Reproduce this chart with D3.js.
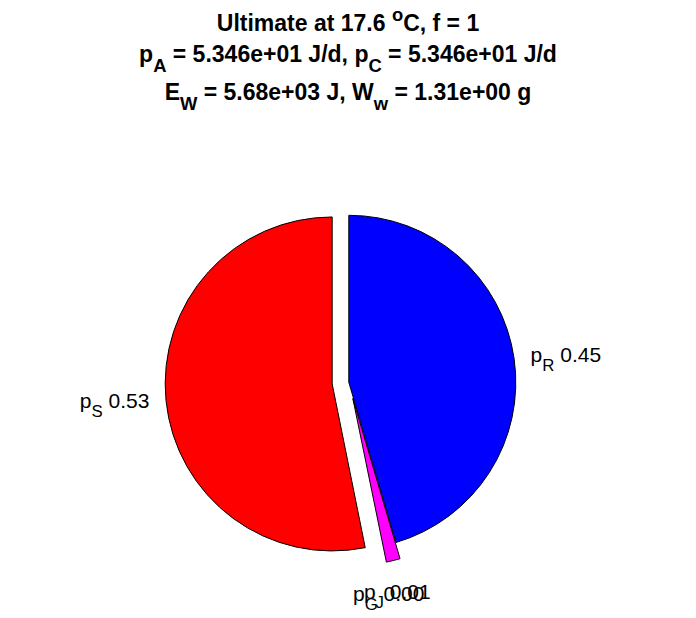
<!DOCTYPE html>
<html>
<head>
<meta charset="utf-8">
<script src="https://cdn.jsdelivr.net/npm/d3@7"></script>
<style>
  html, body { margin: 0; padding: 0; background: #ffffff; }
  svg { display: block; }
  text { font-family: "Liberation Sans", Arial, Helvetica, sans-serif; }
</style>
</head>
<body>
<svg id="chart" width="696" height="618"></svg>
<script>
// ---- data ----
const categories = ["p_{S}", "p_{G}", "p_{J}", "p_{R}"];
const fractions  = [0.5317, 0.0005, 0.0134, 0.4544];
const colors     = ["#ff0000", "#00ff00", "#ff00ff", "#0000ff"];
const explode    = [1, 1, 1, 0];
const titleLines = [
  "Ultimate at 17.6 ^{o}C, f = 1",
  "p_{A} = 5.346e+01 J/d, p_{C} = 5.346e+01 J/d",
  "E_{W} = 5.68e+03 J, W_{w} = 1.31e+00 g"
];

// ---- layout ----
const W = 696, H = 618;
const cx = 348.8, cy = 382.3, R = 167;
const svg = d3.select("#chart");
svg.append("rect").attr("width", W).attr("height", H).attr("fill", "#fff");

// rich text helper: supports _{..} and ^{..}
function richText(sel, str, fs, k) {
  const re = /([_^])\{([^}]*)\}/g;
  let last = 0, m, shift = 0;
  const parts = [];
  while ((m = re.exec(str)) !== null) {
    if (m.index > last) parts.push({t: str.slice(last, m.index), mode: 0});
    parts.push({t: m[2], mode: m[1] === "_" ? 1 : -1});
    last = re.lastIndex;
  }
  if (last < str.length) parts.push({t: str.slice(last), mode: 0});
  parts.forEach(p => {
    const target = p.mode === 1 ? fs * 0.45 : (p.mode === -1 ? -fs * 0.42 : 0);
    const dy = target - shift;
    shift = target;
    sel.append("tspan")
      .attr("dy", dy)
      .attr("font-size", p.mode === 0 ? fs : fs * k)
      .text(p.t);
  });
}

// ---- title ----
const titleFs = 23;
const titleBaselines = [30.7, 61.7, 100];
titleLines.forEach((s, i) => {
  const t = svg.append("text")
    .attr("x", 348).attr("y", titleBaselines[i])
    .attr("text-anchor", "middle")
    .attr("font-weight", "bold")
    .attr("font-size", titleFs)
    .attr("fill", "#000")
    .style("white-space", "pre");
  richText(t, s, titleFs, 0.8);
});

// ---- pie (counterclockwise from 12 o'clock, like MATLAB) ----
const data = categories.map((c, i) => ({cat: c, value: fractions[i], color: colors[i], ex: explode[i]}));
const pie = d3.pie().value(d => d.value).sort(null).startAngle(0).endAngle(-2 * Math.PI);
const arcs = pie(data);
const arc = d3.arc().innerRadius(0).outerRadius(R);

const g = svg.append("g").attr("transform", `translate(${cx},${cy})`);
const labelFs = 21;
arcs.forEach(a => {
  const mid = (a.startAngle + a.endAngle) / 2;
  const ux = Math.sin(mid), uy = -Math.cos(mid);
  const off = a.data.ex ? 0.1 * R : 0;
  const ox = off * ux, oy = off * uy;
  if (a.data.value > 0.001) {
    g.append("path")
      .attr("d", arc(a))
      .attr("transform", `translate(${ox},${oy})`)
      .attr("fill", a.data.color)
      .attr("stroke", "#000")
      .attr("stroke-width", 1)
      .attr("stroke-linejoin", "miter");
  }
  // label
  const L = 1.1 * R;
  const lx = ox + L * ux, ly = oy + L * uy;
  let anchor = "middle";
  if (ux > 0.5) anchor = "start"; else if (ux < -0.5) anchor = "end";
  let base;
  if (uy > 0.5) base = ly + 1.05 * labelFs;
  else if (uy < -0.5) base = ly - 0.35 * labelFs;
  else base = ly + 0.26 * labelFs;
  const pct = d3.format(".2f")(a.data.value);
  const t = g.append("text")
    .attr("x", lx).attr("y", base)
    .attr("text-anchor", anchor)
    .attr("font-size", labelFs)
    .attr("fill", "#000")
    .style("white-space", "pre");
  richText(t, a.data.cat + " " + pct, labelFs, 0.8);
});
</script>
</body>
</html>
